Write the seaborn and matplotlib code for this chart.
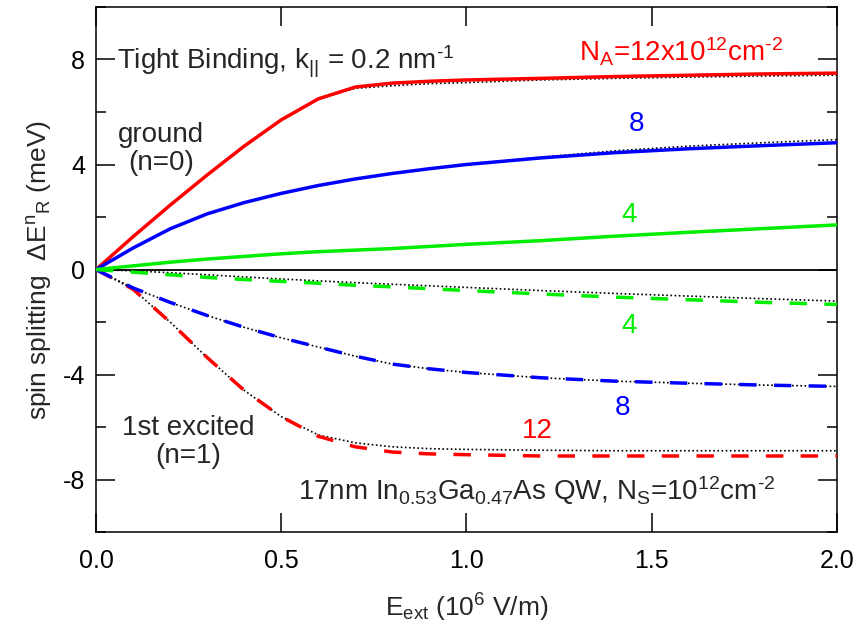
import numpy as np
import pandas as pd
import matplotlib
matplotlib.use('Agg')
import matplotlib.pyplot as plt
import seaborn as sns
from matplotlib.ticker import MultipleLocator

sns.set_style("ticks")
plt.rcParams['font.family'] = ['Liberation Sans', 'DejaVu Sans']
plt.rcParams['mathtext.fontset'] = 'custom'
plt.rcParams['mathtext.rm'] = 'Liberation Sans'
plt.rcParams['mathtext.it'] = 'Liberation Sans:italic'
plt.rcParams['mathtext.default'] = 'regular'
plt.rcParams['axes.unicode_minus'] = False

# champ électrique (10^6 V/m)
E_ext = [0.0, 0.1, 0.2, 0.3, 0.4, 0.5, 0.6, 0.7, 0.8, 0.9, 1.0, 1.2, 1.4, 1.6, 1.8, 2.0]

# état fondamental (n=0), NA = 12, 8, 4
ground_12 = [0, 1.25, 2.45, 3.6, 4.7, 5.7, 6.5, 6.95, 7.1, 7.17, 7.22, 7.28, 7.35, 7.4, 7.45, 7.48]
ground_8 = [0, 0.82, 1.55, 2.12, 2.55, 2.9, 3.2, 3.45, 3.66, 3.84, 4.0, 4.25, 4.45, 4.6, 4.72, 4.83]
ground_4 = [0, 0.14, 0.28, 0.4, 0.5, 0.6, 0.68, 0.74, 0.8, 0.88, 0.96, 1.1, 1.27, 1.42, 1.56, 1.7]
# modèle de référence (pointillés noirs)
ground_12_ref = [0, 1.25, 2.45, 3.6, 4.7, 5.7, 6.5, 6.9, 7.0, 7.08, 7.12, 7.22, 7.28, 7.33, 7.37, 7.4]
ground_8_ref = [0, 0.82, 1.55, 2.12, 2.55, 2.9, 3.2, 3.45, 3.66, 3.84, 4.0, 4.28, 4.52, 4.7, 4.83, 4.95]
ground_4_ref = [0, 0.14, 0.28, 0.4, 0.5, 0.6, 0.68, 0.74, 0.8, 0.88, 0.96, 1.1, 1.26, 1.4, 1.54, 1.68]

# premier état excité (n=1)
excited_12 = [0, -0.75, -2.0, -3.35, -4.6, -5.6, -6.35, -6.75, -6.95, -7.02, -7.05, -7.1, -7.1, -7.1, -7.1, -7.1]
excited_8 = [0, -0.7, -1.25, -1.75, -2.2, -2.6, -2.95, -3.3, -3.6, -3.78, -3.92, -4.12, -4.25, -4.33, -4.4, -4.45]
excited_4 = [0, -0.1, -0.2, -0.3, -0.38, -0.45, -0.52, -0.6, -0.66, -0.73, -0.8, -0.93, -1.05, -1.15, -1.25, -1.33]
excited_12_ref = [0, -0.75, -2.0, -3.35, -4.6, -5.6, -6.3, -6.6, -6.75, -6.82, -6.85, -6.88, -6.9, -6.9, -6.9, -6.9]
excited_8_ref = [0, -0.7, -1.25, -1.75, -2.2, -2.6, -2.95, -3.3, -3.6, -3.78, -3.92, -4.12, -4.25, -4.33, -4.4, -4.45]
excited_4_ref = [0, -0.05, -0.12, -0.2, -0.28, -0.36, -0.43, -0.5, -0.56, -0.62, -0.68, -0.8, -0.91, -1.01, -1.11, -1.2]

red, blue, green = '#FF0000', '#0000FF', '#00EE00'
dashed = (0, (5, 5))

fig, ax = plt.subplots(figsize=(8.61, 6.32), dpi=100)
fig.subplots_adjust(left=0.1115, right=0.972, top=0.989, bottom=0.158)

ax.axhline(0, color='black', lw=1.3, zorder=1)

# courbes de référence en pointillés noirs (dessous)
for ref in [ground_12_ref, ground_8_ref, ground_4_ref, excited_12_ref, excited_8_ref, excited_4_ref]:
    sns.lineplot(x=E_ext, y=ref, ax=ax, color='black', lw=1.2, ls=(0, (1, 1.5)), zorder=2)

# courbes principales
sns.lineplot(x=E_ext, y=ground_12, ax=ax, color=red, lw=2.5, zorder=3)
sns.lineplot(x=E_ext, y=ground_8, ax=ax, color=blue, lw=2.5, zorder=3)
sns.lineplot(x=E_ext, y=ground_4, ax=ax, color=green, lw=2.5, zorder=3)
sns.lineplot(x=E_ext, y=excited_12, ax=ax, color=red, lw=2.5, ls=dashed, zorder=3)
sns.lineplot(x=E_ext, y=excited_8, ax=ax, color=blue, lw=2.5, ls=dashed, zorder=3)
sns.lineplot(x=E_ext, y=excited_4, ax=ax, color=green, lw=2.5, ls=dashed, zorder=3)

ax.set_xlim(0, 2.0)
ax.set_ylim(-10, 10)
ax.xaxis.set_major_locator(MultipleLocator(0.5))
ax.yaxis.set_major_locator(MultipleLocator(4))
ax.yaxis.set_minor_locator(MultipleLocator(2))
ax.xaxis.set_major_formatter(matplotlib.ticker.FormatStrFormatter('%.1f'))
ax.tick_params(which='both', direction='in', top=True, right=True, width=1.1, colors='black')
ax.tick_params(which='major', length=14, labelsize=18)
ax.tick_params(which='minor', length=7)
ax.tick_params(axis='x', pad=12)
ax.tick_params(axis='y', pad=8)
for s in ax.spines.values():
    s.set_linewidth(1.1)
    s.set_color('black')

ax.set_xlabel(r'E$_{ext}$ (10$^{6}$ V/m)', fontsize=19, labelpad=14)
ax.set_ylabel(r'spin splitting  $\Delta$E$^{n}$$_{R}$ (meV)', fontsize=19, labelpad=6)

# annotations
ax.text(0.057, 7.9, r'Tight Binding, k$_{||}$ = 0.2 nm$^{\text{-1}}$', fontsize=20, va='center', ha='left')
ax.text(0.175, 4.6, 'ground\n(n=0)', fontsize=20, ha='center', va='center', linespacing=1.1)
ax.text(1.58, 8.3, r'N$_{A}$=12x10$^{12}$cm$^{\text{-2}}$', fontsize=20, ha='center', va='center', color=red)
ax.text(1.46, 5.55, '8', fontsize=20, ha='center', va='center', color=blue)
ax.text(1.44, 2.07, '4', fontsize=20, ha='center', va='center', color=green)
ax.text(1.44, -2.15, '4', fontsize=20, ha='center', va='center', color=green)
ax.text(1.42, -5.28, '8', fontsize=20, ha='center', va='center', color=blue)
ax.text(1.19, -6.15, '12', fontsize=20, ha='center', va='center', color=red)
ax.text(0.25, -6.55, '1st excited\n(n=1)', fontsize=20, ha='center', va='center', linespacing=1.1)
ax.text(1.19, -8.4, r'17nm In$_{0.53}$Ga$_{0.47}$As QW, N$_{S}$=10$^{12}$cm$^{\text{-2}}$',
        fontsize=20, ha='center', va='center')

plt.savefig('out.png', dpi=100)
plt.close()
